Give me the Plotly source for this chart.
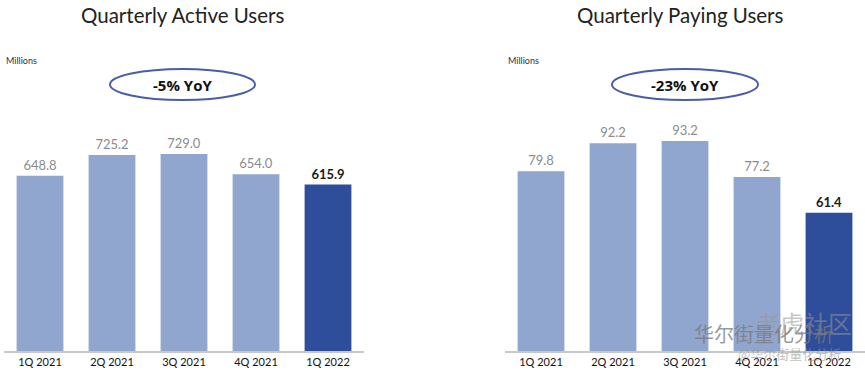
import plotly.graph_objects as go

categories = ["1Q 2021", "2Q 2021", "3Q 2021", "4Q 2021", "1Q 2022"]
active_users = [648.8, 725.2, 729.0, 654.0, 615.9]
paying_users = [79.8, 92.2, 93.2, 77.2, 61.4]
active_labels = ["648.8", "725.2", "729.0", "654.0", "615.9"]
paying_labels = ["79.8", "92.2", "93.2", "77.2", "61.4"]

LIGHT = "#91a6ce"
DARK = "#2e4e9b"
colors = [LIGHT, LIGHT, LIGHT, LIGHT, DARK]
label_colors = ["#8c8c8c", "#8c8c8c", "#8c8c8c", "#8c8c8c", "#1a1a1a"]

W, H = 865, 374
fig = go.Figure()

def lbl(texts):
    return [("<b>" + t + "</b>") if i == len(texts) - 1 else t for i, t in enumerate(texts)]

for vals, labels, xa, ya in [(active_users, active_labels, "x", "y"),
                             (paying_users, paying_labels, "x2", "y2")]:
    fig.add_trace(go.Bar(
        x=categories, y=vals, xaxis=xa, yaxis=ya,
        marker=dict(color=colors, line=dict(width=0)), width=0.65,
        text=lbl(labels), textposition="outside", cliponaxis=False,
        textfont=dict(color=label_colors, size=13, family="Lato"),
        showlegend=False, hoverinfo="skip",
    ))

def px(x):
    return x / W

def py(y):
    return 1 - y / H

axis_common = dict(
    showgrid=False, zeroline=False, showline=True, linecolor="#c8c8c8", linewidth=2,
    ticks="", tickfont=dict(size=11, color="#111111", family="Lato"),
    range=[-0.5, 4.5], fixedrange=True, automargin=False,
)
fig.update_layout(
    width=W, height=H,
    margin=dict(l=0, r=0, t=0, b=0, autoexpand=False),
    paper_bgcolor="white", plot_bgcolor="white",
    xaxis=dict(domain=[px(4), px(364)], anchor="y", **axis_common),
    xaxis2=dict(domain=[px(505), 1.0], anchor="y2", **axis_common),
    yaxis=dict(domain=[py(351), py(100)], range=[0, 929], visible=False, fixedrange=True),
    yaxis2=dict(domain=[py(351), py(100)], range=[0, 111.4], visible=False, anchor="x2", fixedrange=True),
)

annots = [
    dict(text="Quarterly Active Users", x=px(182), y=py(15), font=dict(size=20.5, color="#222222", family="Lato")),
    dict(text="Quarterly Paying Users", x=px(680), y=py(15), font=dict(size=20.5, color="#222222", family="Lato")),
    dict(text="Millions", x=px(4), y=py(61), xanchor="left", font=dict(size=9, color="#333333", family="Lato")),
    dict(text="Millions", x=px(506), y=py(61), xanchor="left", font=dict(size=9, color="#333333", family="Lato")),
    dict(text="<b>-5% YoY</b>", x=px(182), y=py(85), font=dict(size=15, color="#111111", family="Open Sans")),
    dict(text="<b>-23% YoY</b>", x=px(685), y=py(85), font=dict(size=15, color="#111111", family="Open Sans")),
    dict(text="老虎社区", x=px(804), y=py(322), font=dict(size=24, color="rgba(150,150,150,0.55)", family="Noto Sans CJK SC")),
    dict(text="华尔街量化分析", x=px(764), y=py(333), font=dict(size=20, color="rgba(120,120,120,0.75)", family="Noto Sans CJK SC")),
    dict(text="@华尔街量化分析", x=px(789), y=py(353), font=dict(size=13, color="rgba(150,150,150,0.6)", family="Noto Sans CJK SC")),
]
for a in annots:
    a.update(xref="paper", yref="paper", showarrow=False)
    a.setdefault("xanchor", "center")
    a["yanchor"] = "middle"
    fig.add_annotation(**a)

for (x0, x1) in [(110, 255), (612, 758)]:
    fig.add_shape(type="circle", xref="paper", yref="paper",
                  x0=px(x0), x1=px(x1), y0=py(100), y1=py(69),
                  line=dict(color="#4a5ea6", width=2), fillcolor="rgba(255,255,255,0)",
                  layer="below")

fig.write_html("out.html",
               config={"displayModeBar": False, "staticPlot": True},
               post_script="document.body.style.margin='0';document.body.style.overflow='hidden';")
